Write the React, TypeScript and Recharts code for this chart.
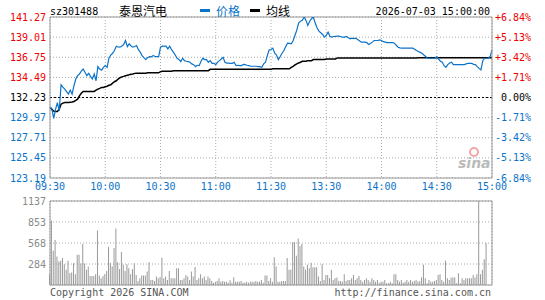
import { LineChart, Line, BarChart, Bar, XAxis, YAxis, CartesianGrid, ReferenceLine } from "recharts";

const MONO = "'DejaVu Sans Mono', monospace";
const CJK = "'Noto Sans CJK SC', sans-serif";
const RED = "#ee0000";
const BLUE = "#0b73c9";
const GRID = "#aaaaaa";
const BORDER = "#999999";

const PREV_CLOSE = 132.23;
const priceTicks = [141.27, 139.01, 136.75, 134.49, 132.23, 129.97, 127.71, 125.45, 123.19];
const pctTicks = [6.84, 5.13, 3.42, 1.71, 0, -1.71, -3.42, -5.13, -6.84];
const timeTicks = [0, 30, 60, 90, 120, 150, 180, 210, 240];
const timeLabels = ["09:30", "10:00", "10:30", "11:00", "11:30", "13:30", "14:00", "14:30", "15:00"];
const volumeTicks = [0, 284, 568, 853, 1137];

// one point per minute, 09:30-11:30 then 13:01-15:00
const prices = [
  131.18, 131.0, 129.89, 130.9, 131.66, 130.72, 133.66, 133.4, 133.17, 132.9,
  132.61, 133.06, 132.61, 133.55, 134.3, 134.68, 134.87, 135.2, 135.43, 135.06,
  134.68, 134.95, 134.6, 134.3, 134.87, 134.11, 135.7, 135.43, 135.3, 135.62,
  135.81, 135.62, 136.64, 137.0, 137.2, 137.5, 137.99, 137.9, 137.88, 138.0,
  138.18, 138.63, 137.95, 138.26, 138.0, 137.88, 137.95, 138.07, 137.6, 137.32,
  136.94, 136.7, 136.49, 136.7, 136.83, 136.8, 136.94, 136.85, 136.83, 136.83,
  137.88, 137.99, 137.99, 137.99, 137.69, 137.99, 137.6, 137.32, 137.0, 136.64,
  136.5, 136.26, 136.64, 136.37, 136.3, 136.25, 136.19, 136.0, 135.92, 135.7,
  135.85, 135.81, 136.3, 136.64, 136.49, 136.49, 136.19, 136.37, 136.07, 136.07,
  135.92, 136.2, 136.37, 136.55, 136.75, 136.19, 136.1, 136.1, 136.07, 136.07,
  136.19, 135.81, 135.85, 135.81, 135.81, 135.95, 135.92, 135.85, 135.81, 135.74,
  135.74, 135.74, 135.74, 135.7, 135.7, 135.62, 136.0, 136.19, 136.94, 137.58,
  137.62, 137.77, 137.2, 137.0, 136.49, 136.83, 137.2, 137.5, 137.95, 138.33,
  138.3, 138.26, 138.6, 139.2, 139.8, 140.59, 140.8, 140.89, 141.27, 140.89,
  140.33, 140.8, 141.08, 141.27, 140.6, 140.07, 139.69, 139.5, 139.31, 139.01,
  139.2, 139.57, 139.1, 139.01, 139.08, 139.1, 139.12, 139.12, 139.05, 139.01,
  139.01, 139.08, 138.95, 138.82, 138.9, 138.85, 138.9, 138.75, 138.6, 138.45,
  138.45, 138.45, 138.4, 138.18, 138.3, 138.45, 138.63, 138.63, 138.63, 138.7,
  138.63, 138.5, 138.45, 138.4, 138.4, 138.4, 138.4, 138.33, 138.1, 137.88,
  137.8, 137.77, 137.77, 137.77, 137.77, 137.77, 137.77, 137.77, 137.65, 137.5,
  137.39, 137.3, 137.2, 137.0, 136.83, 136.64, 136.64, 136.64, 136.64, 136.64,
  136.83, 136.55, 136.3, 136.19, 135.8, 135.62, 135.92, 136.1, 136.19, 135.92,
  135.92, 135.92, 135.92, 135.92, 135.92, 135.92, 136.0, 136.07, 136.07, 136.07,
  135.95, 135.92, 135.7, 135.5, 135.32, 136.37, 136.64, 136.64, 136.64, 136.83,
  137.58,
];

const avgPrices = [
  131.1, 130.9, 130.7, 130.65, 130.65, 130.9, 131.48, 131.6, 131.66, 131.66,
  131.66, 131.7, 131.72, 131.78, 131.9, 132.04, 132.42, 132.7, 132.91, 132.91,
  132.91, 132.91, 132.91, 132.91, 132.91, 133.05, 133.17, 133.25, 133.36, 133.36,
  133.44, 133.5, 133.6, 133.66, 133.85, 134.0, 134.11, 134.3, 134.45, 134.55,
  134.6, 134.68, 134.72, 134.78, 134.85, 134.87, 134.94, 134.96, 134.96, 134.96,
  134.96, 134.96, 134.96, 135.0, 135.0, 135.0, 135.0, 135.0, 135.0, 135.0,
  135.13, 135.17, 135.17, 135.17, 135.17, 135.17, 135.17, 135.24, 135.24, 135.24,
  135.24, 135.24, 135.24, 135.24, 135.24, 135.24, 135.24, 135.24, 135.24, 135.24,
  135.24, 135.24, 135.24, 135.24, 135.24, 135.24, 135.24, 135.39, 135.39, 135.39,
  135.39, 135.39, 135.39, 135.39, 135.39, 135.39, 135.39, 135.39, 135.39, 135.39,
  135.39, 135.39, 135.39, 135.39, 135.39, 135.39, 135.39, 135.39, 135.39, 135.39,
  135.39, 135.39, 135.39, 135.39, 135.39, 135.39, 135.39, 135.39, 135.39, 135.39,
  135.39, 135.45, 135.45, 135.45, 135.45, 135.45, 135.45, 135.45, 135.45, 135.45,
  135.45, 135.62, 135.73, 135.88, 136.0, 136.11, 136.19, 136.3, 136.3, 136.3,
  136.37, 136.37, 136.37, 136.49, 136.49, 136.49, 136.49, 136.49, 136.49, 136.49,
  136.56, 136.56, 136.56, 136.56, 136.56, 136.56, 136.67, 136.67, 136.67, 136.67,
  136.67, 136.67, 136.67, 136.67, 136.67, 136.67, 136.67, 136.67, 136.67, 136.67,
  136.67, 136.67, 136.67, 136.67, 136.67, 136.67, 136.67, 136.67, 136.67, 136.67,
  136.67, 136.67, 136.67, 136.67, 136.67, 136.67, 136.67, 136.67, 136.67, 136.67,
  136.67, 136.67, 136.67, 136.67, 136.67, 136.67, 136.67, 136.67, 136.67, 136.67,
  136.7, 136.7, 136.7, 136.7, 136.7, 136.7, 136.7, 136.7, 136.7, 136.7,
  136.7, 136.7, 136.7, 136.7, 136.7, 136.7, 136.7, 136.7, 136.7, 136.7,
  136.7, 136.7, 136.7, 136.7, 136.7, 136.7, 136.7, 136.7, 136.7, 136.7,
  136.7, 136.7, 136.7, 136.7, 136.7, 136.7, 136.7, 136.7, 136.7, 136.7,
  136.7,
];

const volumes = [
  145, 873, 464, 609, 387, 318, 327, 364, 282, 205,
  327, 159, 168, 296, 145, 409, 409, 291, 555, 291,
  205, 250, 123, 123, 123, 145, 737, 127, 91, 123,
  150, 191, 518, 300, 250, 500, 764, 309, 218, 446,
  273, 191, 282, 227, 145, 214, 296, 136, 55, 91,
  127, 127, 127, 182, 309, 68, 68, 55, 114, 91,
  109, 370, 91, 114, 68, 191, 91, 91, 91, 227,
  227, 68, 68, 91, 136, 114, 68, 182, 114, 245,
  68, 91, 145, 91, 114, 68, 114, 91, 55, 32,
  45, 55, 91, 45, 55, 45, 45, 32, 64, 32,
  105, 45, 45, 45, 55, 32, 32, 45, 32, 45,
  45, 45, 55, 45, 45, 68, 32, 127, 127, 55,
  91, 45, 377, 250, 45, 45, 55, 55, 55, 364,
  205, 205, 578, 578, 396, 628, 528, 555, 250, 205,
  273, 227, 300, 240, 240, 240, 114, 55, 282, 68,
  136, 136, 91, 205, 68, 91, 100, 55, 55, 45,
  145, 55, 68, 68, 91, 136, 68, 91, 123, 68,
  45, 68, 91, 68, 45, 91, 68, 45, 68, 32,
  45, 45, 68, 23, 23, 45, 23, 145, 145, 68,
  45, 68, 32, 45, 68, 45, 68, 45, 55, 68,
  45, 55, 105, 273, 91, 23, 68, 45, 45, 55,
  68, 136, 145, 68, 45, 327, 91, 68, 100, 100,
  100, 23, 159, 23, 91, 68, 91, 91, 91, 91,
  136, 100, 145, 1137, 145, 205, 350, 568, 0, 0,
  0,
];

const rows = prices.map((p, i) => ({ i, price: p, avg: avgPrices[i], vol: volumes[i] }));

function PriceTick(props: any) {
  const { x, y, payload } = props;
  const v = payload.value;
  const color = v > PREV_CLOSE + 0.001 ? RED : v < PREV_CLOSE - 0.001 ? BLUE : "#000";
  return (
    <text x={x} y={y} dy="0.355em" textAnchor="end" fill={color} fontSize={10} fontFamily={MONO}>
      {v.toFixed(2)}
    </text>
  );
}

function PctTick(props: any) {
  const { x, y, payload } = props;
  const v = payload.value;
  const color = v > 0 ? RED : v < 0 ? BLUE : "#000";
  const label = (v > 0 ? "+" : "") + v.toFixed(2) + "%";
  return (
    <text x={x + 36} y={y} dy="0.355em" textAnchor="end" fill={color} fontSize={10} fontFamily={MONO}>
      {label}
    </text>
  );
}

function VolTick(props: any) {
  const { x, y, payload } = props;
  if (payload.value === 0) return null;
  return (
    <text x={x} y={y} dy="0.355em" textAnchor="end" fill="#8a8a8a" fontSize={10} fontFamily={MONO}>
      {payload.value}
    </text>
  );
}

const timeFmt = (v: number) => timeLabels[timeTicks.indexOf(v)] ?? "";

export default function App() {
  return (
    <div style={{ position: "absolute", left: 0, top: 0, width: 545, height: 300, background: "#fff" }}>
      <div style={{ position: "absolute", left: 0, top: 0 }}>
        <LineChart width={545} height={192} data={rows} margin={{ top: 17, right: 0, bottom: 0, left: 0 }}>
          <CartesianGrid stroke={GRID} strokeDasharray="1 2" />
          <XAxis
            dataKey="i"
            type="number"
            domain={[0, 240]}
            ticks={timeTicks}
            interval={0}
            tickFormatter={timeFmt}
            height={14}
            tickSize={0}
            tickMargin={5}
            axisLine={{ stroke: BORDER }}
            tick={{ fill: BLUE, fontSize: 10, fontFamily: MONO }}
          />
          <YAxis
            domain={[priceTicks[8], priceTicks[0]]}
            ticks={priceTicks}
            interval={0}
            width={50}
            tickSize={0}
            tickMargin={4}
            axisLine={{ stroke: BORDER }}
            tick={<PriceTick />}
            allowDataOverflow
          />
          <YAxis
            yAxisId="pct"
            orientation="right"
            domain={[pctTicks[8], pctTicks[0]]}
            ticks={pctTicks}
            interval={0}
            width={53}
            tickSize={0}
            tickMargin={3}
            axisLine={{ stroke: BORDER }}
            tick={<PctTick />}
            allowDataOverflow
          />
          <ReferenceLine y={priceTicks[0]} stroke={BORDER} />
          <ReferenceLine y={PREV_CLOSE} stroke="#000" strokeDasharray="2 2" />
          <Line dataKey="avg" stroke="#000" strokeWidth={1.5} dot={false} isAnimationActive={false} />
          <Line dataKey="price" stroke={BLUE} strokeWidth={1.2} dot={false} isAnimationActive={false} />
        </LineChart>
      </div>
      <div style={{ position: "absolute", left: 0, top: 190 }}>
        <BarChart width={545} height={109} data={rows} margin={{ top: 11, right: 0, bottom: 0, left: 0 }}>
          <CartesianGrid stroke={GRID} strokeDasharray="1 2" />
          <XAxis
            dataKey="i"
            type="number"
            domain={[0, 240]}
            ticks={timeTicks}
            height={14}
            tick={false}
            tickLine={false}
            axisLine={{ stroke: BORDER }}
          />
          <YAxis
            domain={[0, volumeTicks[4]]}
            ticks={volumeTicks}
            interval={0}
            width={50}
            tickSize={0}
            tickMargin={4}
            axisLine={{ stroke: BORDER }}
            tick={<VolTick />}
            allowDataOverflow
          />
          <YAxis yAxisId="r" orientation="right" width={53} tick={false} tickLine={false} axisLine={{ stroke: BORDER }} />
          <ReferenceLine y={volumeTicks[4]} stroke={BORDER} />
          <Bar dataKey="vol" fill="#999" barSize={1} isAnimationActive={false} />
        </BarChart>
      </div>
      <svg width={545} height={300} style={{ position: "absolute", left: 0, top: 0, pointerEvents: "none" }}>
        <text x={50} y={15} fontSize={10} fontFamily={MONO} fill="#000">sz301488</text>
        <text x={119} y={16} fontSize={12} fontFamily={CJK} fill="#000">泰恩汽电</text>
        <rect x={200} y={9} width={10} height={3} fill={BLUE} />
        <text x={216} y={16} fontSize={12} fontFamily={CJK} fill={BLUE}>价格</text>
        <rect x={250} y={9} width={10} height={3} fill="#000" />
        <text x={266} y={16} fontSize={12} fontFamily={CJK} fill="#000">均线</text>
        <text x={490} y={15} textAnchor="end" fontSize={10} fontFamily={MONO} fill="#000">2026-07-03 15:00:00</text>
        <circle cx={474} cy={152} r={4} fill="none" stroke="#f2a6a6" strokeWidth={2} />
        <text x={458} y={168} fontSize={14} fontStyle="italic" fontWeight="bold" fontFamily="'DejaVu Sans', sans-serif" fill="#bbb">sina</text>
        <text x={50} y={296} fontSize={10} fontFamily={MONO} fill="#555">Copyright 2026 SINA.COM</text>
        <text x={491} y={296} textAnchor="end" fontSize={10} fontFamily={MONO} fill="#555">http://finance.sina.com.cn</text>
      </svg>
    </div>
  );
}
